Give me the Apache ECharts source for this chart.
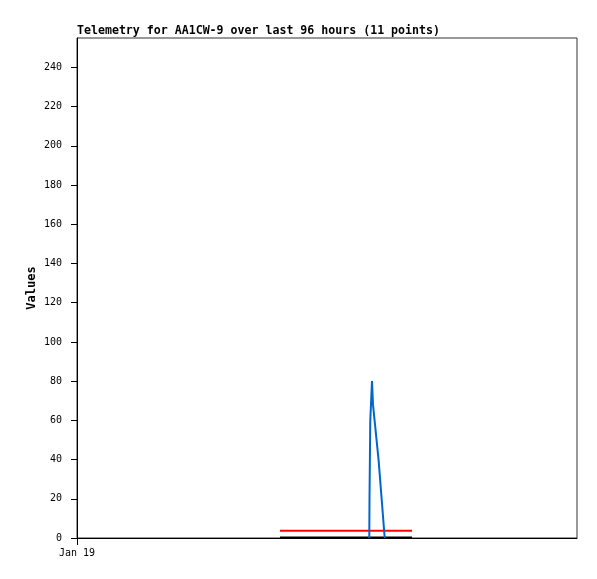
<!DOCTYPE html>
<html>
<head>
<meta charset="utf-8">
<script src="https://cdn.jsdelivr.net/npm/echarts@6/dist/echarts.min.js"></script>
<style>html,body{margin:0;padding:0;background:#fff;}#c{width:597px;height:579px;}</style>
</head>
<body>
<div id="c"></div>
<script>
// hours since start of window (Jan 19 00:00), values
const titleText = 'Telemetry for AA1CW-9 over last 96 hours (11 points)';
const xTickLabels = ['Jan 19'];
const blueHours = [56.12, 56.16, 56.31, 56.64, 56.83, 57.9, 59.08];
const blueValues = [0, 20, 60, 80, 68, 40, 0];
const redHours = [38.98, 64.32];
const redValues = [3.7, 3.7];
const blackHours = [38.98, 64.32];
const blackValues = [0.3, 0.3];

const zip = (a, b) => a.map((v, i) => [v, b[i]]);
const mono = 'DejaVu Sans Mono, Liberation Mono, monospace';

const chart = echarts.init(document.getElementById('c'), null, {renderer: 'canvas'});
chart.setOption({
  animation: false,
  backgroundColor: '#fff',
  title: {
    text: titleText, left: 77, top: 25, padding: 0,
    textStyle: {fontFamily: mono, fontSize: 11.6, fontWeight: 'bold', color: '#000'}
  },
  grid: {left: 77, top: 38, width: 500, height: 500, show: true, borderColor: '#333', borderWidth: 1, backgroundColor: 'transparent'},
  xAxis: {
    type: 'value', min: 0, max: 96,
    axisLine: {show: true, onZero: false, lineStyle: {color: '#000', width: 1}},
    axisTick: {show: true, inside: false, length: 7, customValues: [0], lineStyle: {color: '#000', width: 1}},
    axisLabel: {customValues: [0], formatter: () => xTickLabels[0], fontFamily: mono, fontSize: 10, color: '#000', margin: 10},
    splitLine: {show: false}
  },
  yAxis: {
    type: 'value', min: 0, max: 255, interval: 20,
    name: 'Values', nameLocation: 'middle', nameGap: 39, nameRotate: 90, nameMoveOverlap: false,
    nameTextStyle: {fontFamily: mono, fontSize: 12, fontWeight: 'bold', color: '#000'},
    axisLine: {show: true, lineStyle: {color: '#000', width: 1}},
    axisTick: {show: true, inside: false, length: 6, lineStyle: {color: '#000'}},
    axisLabel: {fontFamily: mono, fontSize: 10, color: '#000', margin: 15, showMaxLabel: false},
    splitLine: {show: false}
  },
  series: [
    {type: 'line', data: zip(blackHours, blackValues), showSymbol: false, lineStyle: {color: '#000', width: 2}, z: 2},
    {type: 'line', data: zip(redHours, redValues), showSymbol: false, lineStyle: {color: '#ff0000', width: 2}, z: 3},
    {type: 'line', data: zip(blueHours, blueValues), showSymbol: false, lineStyle: {color: '#0066cc', width: 2}, z: 4}
  ]
});
</script>
</body>
</html>
